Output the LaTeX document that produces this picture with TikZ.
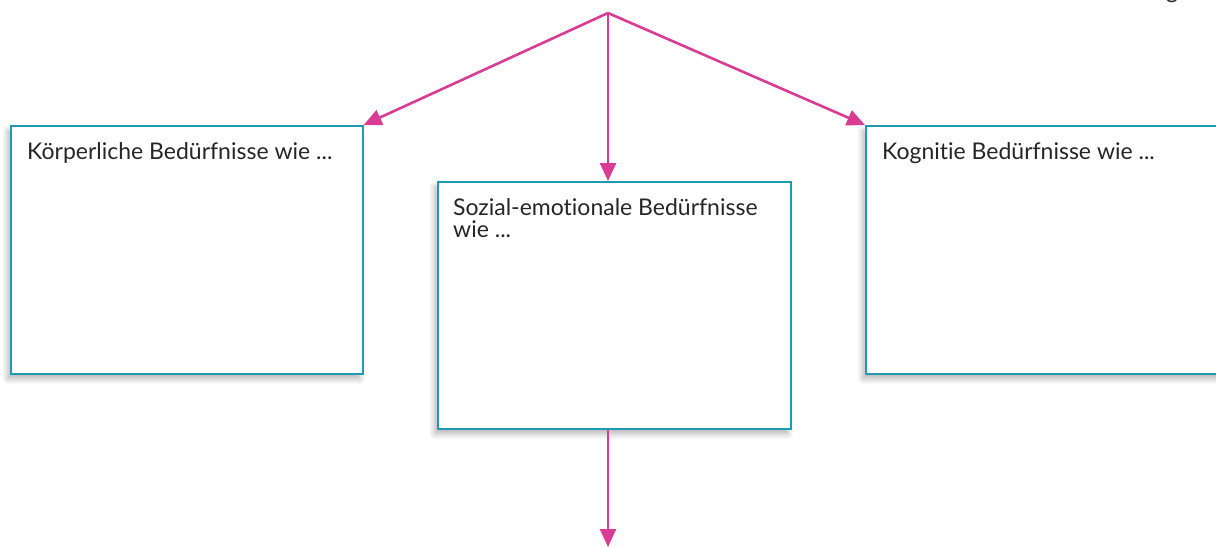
\documentclass[tikz,border=0pt]{standalone}
\usepackage{fontspec}
\setmainfont[Ligatures=NoCommon]{Lato}
\usetikzlibrary{arrows.meta,shadows.blur}
\definecolor{boxteal}{HTML}{1E9AB4}
\definecolor{arrowmag}{HTML}{D93C94}
\tikzset{
  needbox/.style={draw=boxteal, line width=1.6pt, fill=white, rectangle, anchor=north west, inner sep=0pt,
    blur shadow={shadow xshift=-3pt, shadow yshift=-5pt, shadow blur steps=8, shadow opacity=30, shadow blur radius=6pt}},
  boxtext/.style={anchor=base west, inner sep=0pt, font=\fontsize{23}{22}\selectfont, text=black!85, align=left},
  flow/.style={draw=arrowmag, line width=2.6pt, -{Triangle[length=18pt,width=16pt]}}
}
\begin{document}
\begin{tikzpicture}[x=1pt,y=-1pt]
\useasboundingbox (0,0) rectangle (1216,547);
% partial text cut at top edge
\node[anchor=base, inner sep=0pt, font=\fontsize{23}{24}\selectfont, text=black!85] (gcut) at (1172,-2) {g};
\coordinate (top) at (608,13);
\node[needbox, minimum width=352pt, minimum height=248pt] (left) at (10,125) {};
\node[needbox, minimum width=353pt, minimum height=247pt] (mid) at (437,181) {};
\node[needbox, minimum width=380pt, minimum height=248pt] (right) at (865,125) {};
\node[boxtext] (lt) at (27,159) {Körperliche Bedürfnisse wie ...};
\node[boxtext] (mt) at (453,237) {Sozial-emotionale Bedürfnisse\\wie ...};
\node[boxtext] (rt) at (882,159) {Kognitie Bedürfnisse wie ...};
\coordinate (bottom) at (608,547);
\draw[flow] (top) -- (left.north east);
\draw[flow] (top) -- (top |- mid.north);
\draw[flow] (top) -- (right.north west);
\draw[flow] (top |- mid.south) -- (bottom);
\end{tikzpicture}
\end{document}
